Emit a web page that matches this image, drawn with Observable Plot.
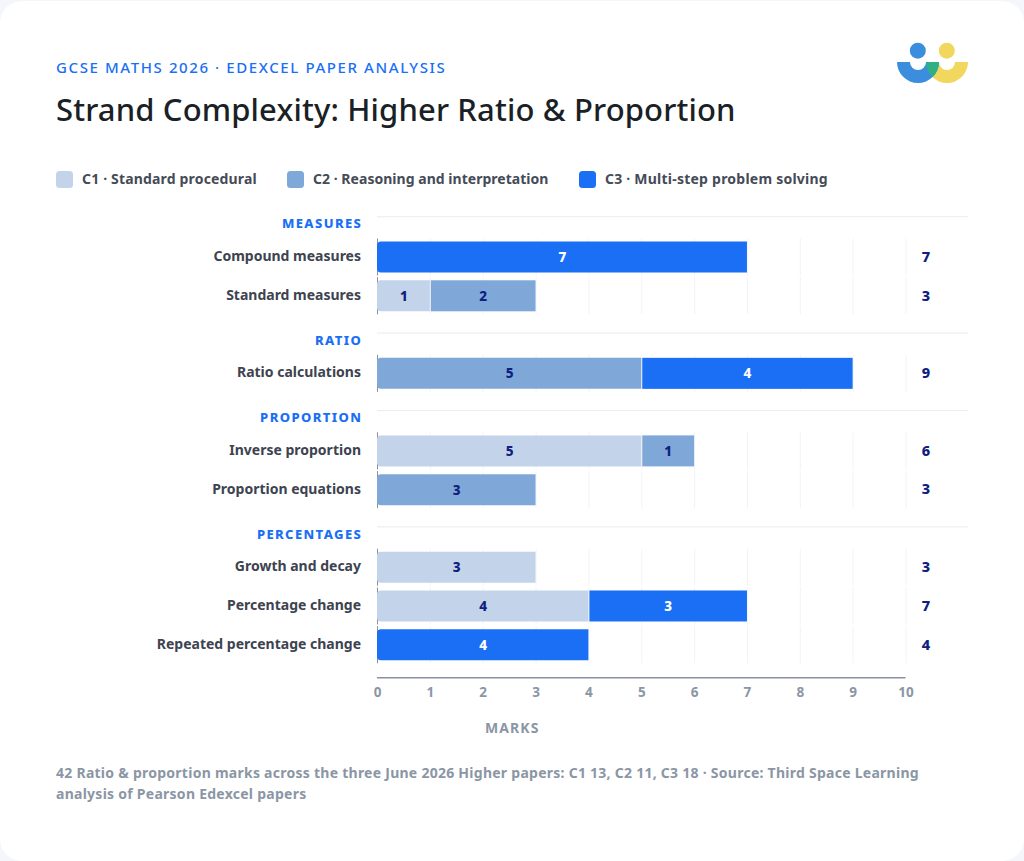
<!DOCTYPE html>
<html><head><meta charset="utf-8">
<script src="https://cdn.jsdelivr.net/npm/d3@7"></script>
<script src="https://cdn.jsdelivr.net/npm/@observablehq/plot@0.6"></script>
<style>
html,body{margin:0;padding:0;background:#f4f6fb;}
body{width:1024px;height:861px;overflow:hidden;font-family:"Noto Sans",sans-serif;}
#card{position:absolute;left:0;top:1px;width:1024px;height:860px;background:#fff;border-radius:22px;}
.eyebrow{position:absolute;left:56px;top:55.5px;font-size:15px;line-height:20px;font-weight:500;letter-spacing:1.6px;color:#1a6ff5;white-space:nowrap;}
h1{position:absolute;left:56px;top:87px;margin:0;font-size:31px;line-height:42px;font-weight:500;letter-spacing:.14px;color:#1b1f26;white-space:nowrap;}
.legend{position:absolute;top:170px;height:18px;left:0;font-size:14px;font-weight:700;color:#454b57;white-space:nowrap;}
.legend span.i{position:absolute;top:0;display:block;}
.legend i{position:absolute;left:0;top:0;width:17px;height:17px;border-radius:3.5px;}
.legend b{position:absolute;left:26px;top:-1px;line-height:18px;font-weight:700;}
.legend span.i:nth-child(1) b{letter-spacing:.17px}
.legend span.i:nth-child(2) b{letter-spacing:.03px}
.legend span.i:nth-child(3) b{letter-spacing:.23px}
#chart{position:absolute;left:0;top:193.5px;}
#logo{position:absolute;left:890px;top:35px;}
.note{position:absolute;left:56px;top:761px;width:900px;font-size:14px;line-height:21px;font-weight:700;letter-spacing:.26px;color:#8b96a5;}
.grp text{letter-spacing:1.4px}
.axl text{letter-spacing:1.1px}
</style></head><body>
<div id="card">
<div class="eyebrow">GCSE MATHS 2026 · EDEXCEL PAPER ANALYSIS</div>
<h1>Strand Complexity: Higher Ratio &amp; Proportion</h1>
<svg id="logo" width="90" height="56" viewBox="890 36 90 56">
<defs><clipPath id="lc"><path d="M897 62H939A21 21 0 0 1 897 62Z"/></clipPath></defs>
<circle cx="917.8" cy="50.7" r="8" fill="#3b8ddd"/><circle cx="946.8" cy="50.7" r="8" fill="#f2d75f"/>
<path d="M926 62H968A21 21 0 0 1 926 62Z" fill="#f2d75f"/>
<path d="M897 62H939A21 21 0 0 1 897 62Z" fill="#3b8ddd"/>
<path d="M926 62H968A21 21 0 0 1 926 62Z" fill="#2eb086" clip-path="url(#lc)"/>
<path d="M910 62A8 8 0 0 0 926 62Z" fill="#fff"/><path d="M939 62A8 8 0 0 0 955 62Z" fill="#fff"/>
</svg>
<div class="legend" id="legend"></div>
<div id="chart"></div>
<div class="note">42 Ratio &amp; proportion marks across the three June 2026 Higher papers: C1 13, C2 11, C3 18 · Source: Third Space Learning<br>analysis of Pearson Edexcel papers</div>
</div>
<script>
const levels = ["C1","C2","C3"];
const levelNames = ["C1 · Standard procedural","C2 · Reasoning and interpretation","C3 · Multi-step problem solving"];
const levelColors = ["#c3d4ea","#7fa8d8","#1a6ff5"];
const groups = ["MEASURES","RATIO","PROPORTION","PERCENTAGES"];
const rows = ["MEASURES","Compound measures","Standard measures","RATIO","Ratio calculations","PROPORTION","Inverse proportion","Proportion equations","PERCENTAGES","Growth and decay","Percentage change","Repeated percentage change"];
const topics = rows.filter(r => !groups.includes(r));
const c1 = [0,1,0,5,0,3,4,0];
const c2 = [0,2,5,1,3,0,0,0];
const c3 = [7,0,4,0,0,0,3,4];
const xTicks = [0,1,2,3,4,5,6,7,8,9,10];

const legendLeft = [56,287,579];
const segs = [];
topics.forEach((t,i)=>{ let s=0; [c1[i],c2[i],c3[i]].forEach((v,k)=>{ if(v>0){segs.push({topic:t,level:levels[k],x1:s,x2:s+v,v,first:s===0}); s+=v;} }); });
const totals = topics.map((t,i)=>({topic:t,total:c1[i]+c2[i]+c3[i]}));
const grid = topics.flatMap(t=>xTicks.map(x=>({topic:t,x})));

document.getElementById("legend").innerHTML = levels.map((l,i)=>`<span class="i" style="left:${legendLeft[i]}px"><i style="background:${levelColors[i]}"></i><b>${levelNames[i]}</b></span>`).join("");

const F = '"Noto Sans",sans-serif';
const dividerEnd = 11.19, totalX = 10;
const last = rows[rows.length-1];
const plot = Plot.plot({
  width:1024, height:538, marginLeft:377, marginRight:118.5, marginTop:0, marginBottom:65,
  style:{fontFamily:F, background:"transparent", overflow:"visible"},
  x:{domain:[0,10], ticks:xTicks, label:null},
  y:{domain:rows, padding:0.2, align:0.5, round:false, label:null},
  color:{domain:levels, range:levelColors},
  marks:[
    Plot.tickX(grid,{x:"x",y:"topic",stroke:d=>d.x===0?"#8a90a0":"#f1f3f8",strokeWidth:1,insetTop:-3,insetBottom:-3,strokeOpacity:1}),
    Plot.ruleY(groups,{y:d=>d,x1:0,x2:dividerEnd,stroke:"#e9ebf0",strokeWidth:1,dy:-2}),
    Plot.barX(segs.filter(d=>!d.first),{x1:"x1",x2:"x2",y:"topic",fill:"level",insetLeft:1}),
    Plot.barX(segs.filter(d=>d.first),{x1:"x1",x2:"x2",y:"topic",fill:"level",rx1:4}),
    Plot.text(segs,{x:d=>(d.x1+d.x2)/2,y:"topic",text:d=>String(d.v),fill:d=>d.level==="C3"?"#fff":"#0e2180",fontSize:13.5,fontWeight:800,dy:0.3}),
    Plot.text(totals,{x:()=>totalX,y:"topic",text:d=>String(d.total),dx:20,fill:"#0e2180",fontSize:14.5,fontWeight:800,dy:-0.3}),
    Plot.text(topics,{x:()=>0,y:d=>d,text:d=>d,textAnchor:"end",dx:-16.5,dy:-1,fill:"#3d4350",fontSize:14,fontWeight:700}),
    Plot.text(groups,{x:()=>0,y:d=>d,text:d=>d,textAnchor:"end",dx:-15.2,dy:5.5,fill:"#1a6ff5",fontSize:13,fontWeight:800,className:"grp"}),
    Plot.ruleY([0],{y:()=>last,dy:32.5,x1:0,x2:10,stroke:"#8a90a0",strokeWidth:1.4}),
    Plot.text(xTicks,{x:d=>d,y:()=>last,text:d=>String(d),dy:47.5,fill:"#8b96a5",fontSize:13.5,fontWeight:700}),
    Plot.text(["MARKS"],{x:()=>2.55,y:()=>last,text:d=>d,dy:83,fill:"#8b96a5",fontSize:14,fontWeight:700,className:"axl"})
  ],
  axis:null
});
document.getElementById("chart").append(plot);
</script>
</body></html>
